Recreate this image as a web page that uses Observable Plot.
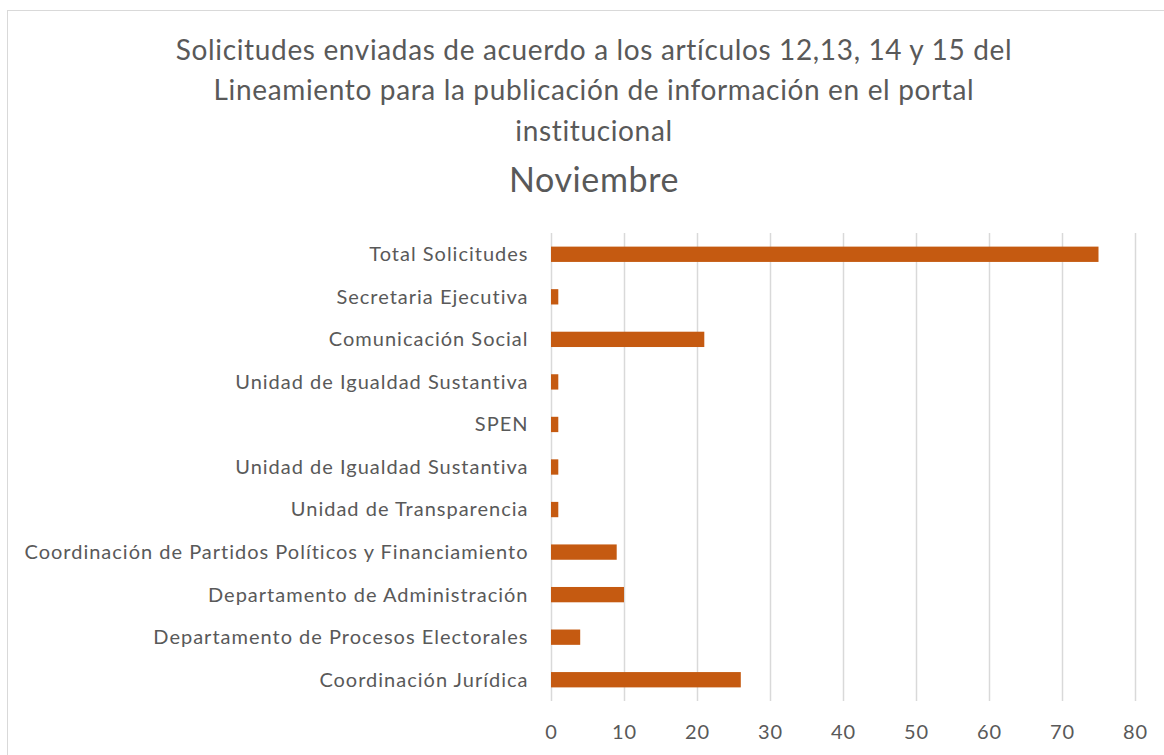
<!DOCTYPE html>
<html>
<head>
<meta charset="utf-8">
<script src="https://cdn.jsdelivr.net/npm/d3@7"></script>
<script src="https://cdn.jsdelivr.net/npm/@observablehq/plot@0.6"></script>
<style>
  html, body { margin: 0; padding: 0; background: #fff; }
  #frame { position: absolute; left: 7px; top: 10px; width: 1200px; height: 800px;
           border-left: 1.5px solid #d9d9d9; border-top: 1.5px solid #d9d9d9; }
  .t { position: absolute; left: 0; width: 1188px; text-align: center;
       font-family: Lato, sans-serif; color: #595959; white-space: nowrap; }
  #chart { position: absolute; left: 0; top: 0; }
  #chart svg text { letter-spacing: 1px; }
</style>
</head>
<body>
<div id="frame"></div>
<div class="t" id="t1" style="top:32px;font-size:28px;letter-spacing:0.65px;">Solicitudes enviadas de acuerdo a los artículos 12,13, 14 y 15 del</div>
<div class="t" id="t2" style="top:72px;font-size:28px;letter-spacing:0.65px;">Lineamiento para la publicación de información en el portal</div>
<div class="t" id="t3" style="top:113px;font-size:28px;letter-spacing:0.65px;">institucional</div>
<div class="t" id="t4" style="top:158px;font-size:34px;letter-spacing:0.6px;">Noviembre</div>
<div id="chart"></div>
<script>
const categories = [
  "Total Solicitudes",
  "Secretaria Ejecutiva",
  "Comunicación Social",
  "Unidad de Igualdad Sustantiva",
  "SPEN",
  "Unidad de Igualdad Sustantiva",
  "Unidad de Transparencia",
  "Coordinación de Partidos Políticos y Financiamiento",
  "Departamento de Administración",
  "Departamento de Procesos Electorales",
  "Coordinación Jurídica"
];
const values = [75, 1, 21, 1, 1, 1, 1, 9, 10, 4, 26];
const xTicks = [0, 10, 20, 30, 40, 50, 60, 70, 80];

const data = categories.map((c, i) => ({i, c, v: values[i]}));

const plot = Plot.plot({
  width: 1164,
  height: 755,
  marginLeft: 551,
  marginRight: 29,
  marginTop: 233,
  marginBottom: 54,
  style: {fontFamily: "Lato, sans-serif", fontSize: "20px", color: "#595959", background: "transparent"},
  x: {domain: [0, 80], ticks: xTicks, label: null},
  y: {domain: data.map(d => d.i), paddingInner: 0.64, paddingOuter: 0.32, round: false, label: null, tickFormat: i => categories[i]},
  marks: [
    Plot.gridX(xTicks, {stroke: "#d9d9d9", strokeOpacity: 1, strokeWidth: 1.5}),
    Plot.barX(data, {x: "v", y: "i", fill: "#C55A11"}),
    Plot.axisX({ticks: xTicks, tickSize: 0, tickPadding: 23, fill: "#595959", fontSize: 20, label: null}),
    Plot.axisY({tickSize: 0, tickPadding: 23, fill: "#595959", fontSize: 20, label: null, tickFormat: i => categories[i]})
  ]
});
document.getElementById("chart").appendChild(plot);
</script>
</body>
</html>
